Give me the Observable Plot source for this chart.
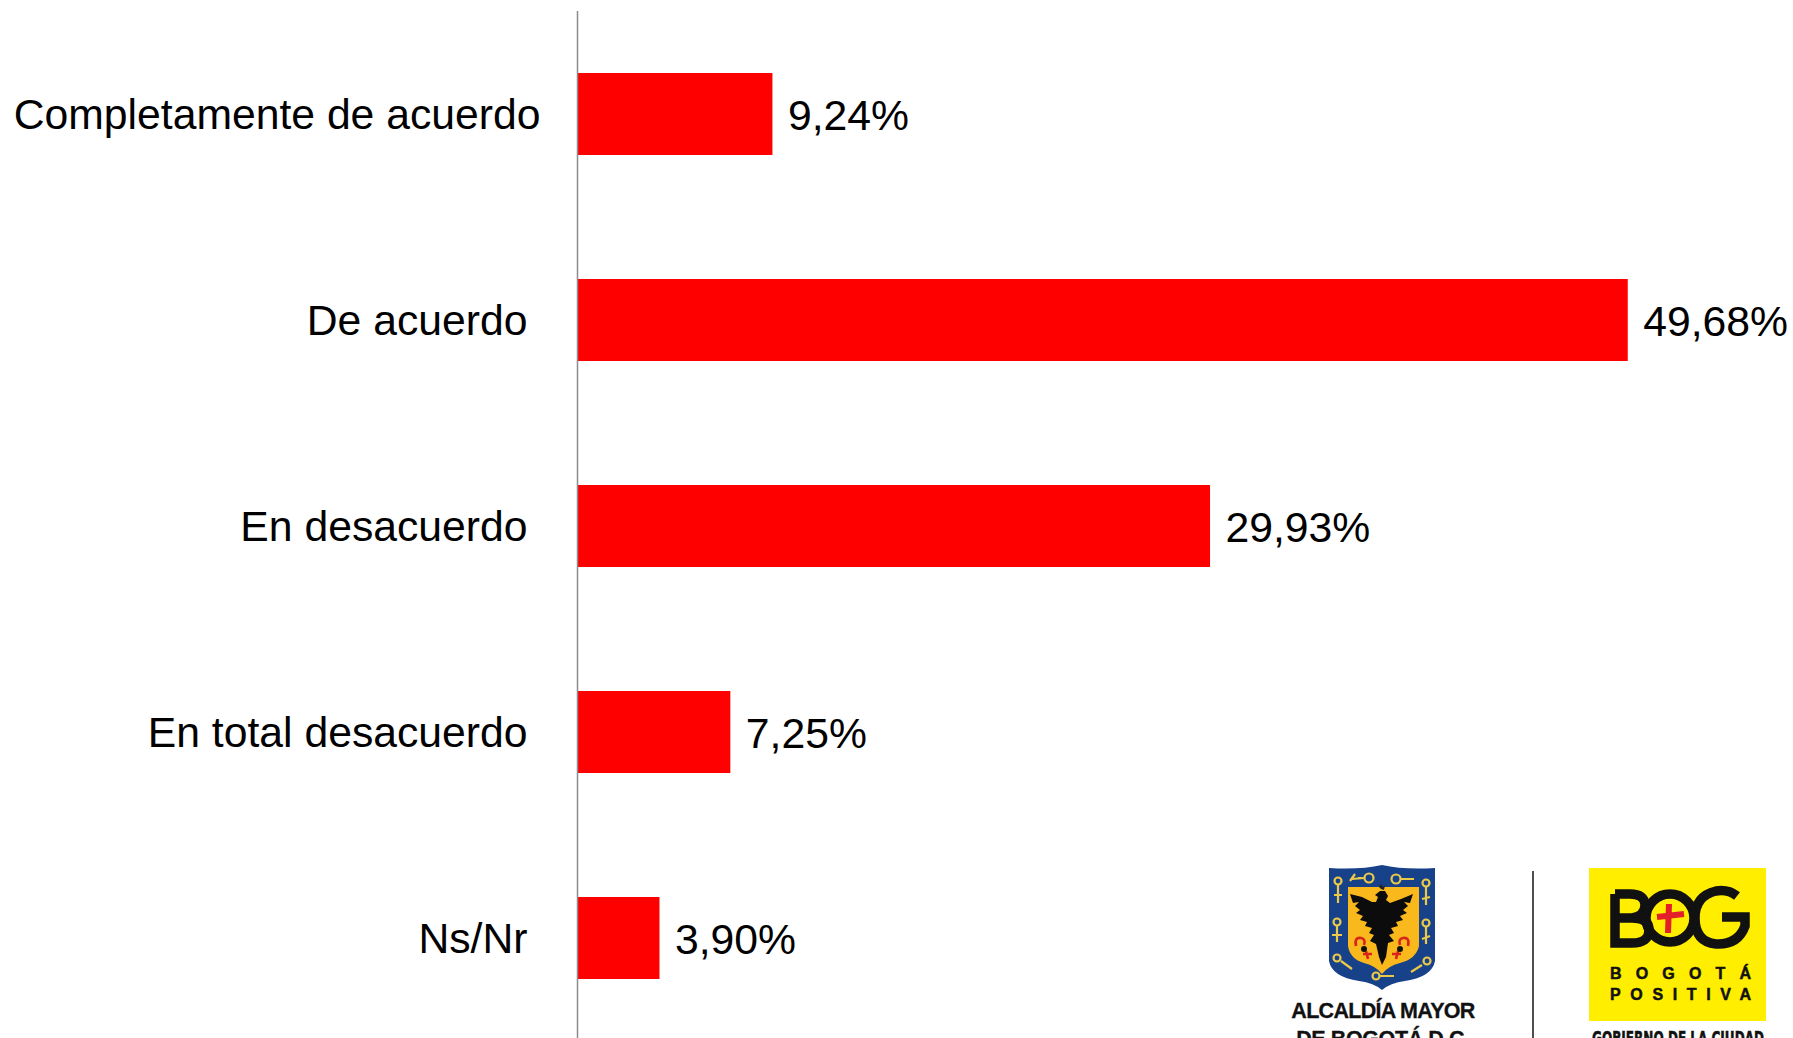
<!DOCTYPE html>
<html><head><meta charset="utf-8">
<script src="https://cdn.jsdelivr.net/npm/d3@7"></script>
<script src="https://cdn.jsdelivr.net/npm/@observablehq/plot@0.6"></script>
<style>
html,body{margin:0;padding:0;background:#fff;overflow:hidden;width:1793px;height:1038px}
#wrap{position:relative;width:1793px;height:1038px;overflow:hidden}
#logos{position:absolute;left:0;top:0}
svg{display:block}
</style></head><body>
<div id="wrap"><div id="chart"></div>
<svg id="logos" width="1793" height="1038" viewBox="0 0 1793 1038" font-family="Liberation Sans">
  <g transform="translate(0,1)">
  <path d="M1329 867 Q1360 869 1382 864 Q1404 869 1435 867 L1435 960 Q1432 976 1405 980 Q1390 982 1382 989 Q1374 982 1359 980 Q1332 976 1329 960Z" fill="#17428a"/>
  <path d="M1348 886 H1419 V945 Q1416 958 1400 962 Q1388 965 1382 973 Q1376 965 1364 962 Q1350 958 1348 945Z" fill="#f9b91c"/>
  <g fill="none" stroke="#e9c84a" stroke-width="2.2">
    <circle cx="1338" cy="880" r="3.5"/><circle cx="1369" cy="877" r="4.5"/><circle cx="1396" cy="878" r="4.5"/><circle cx="1426" cy="882" r="3.5"/>
    <circle cx="1337" cy="921" r="3.5"/><circle cx="1426" cy="922" r="3.5"/><circle cx="1337" cy="957" r="3.5"/><circle cx="1427" cy="960" r="3.5"/><circle cx="1376" cy="975" r="3.5"/>
    <path d="M1338 884V902M1334 894H1342M1426 886V904M1430 896L1422 898M1337 925V941M1332 934H1342M1426 926V943M1430 935L1422 938M1352 878L1364 877M1355 873L1350 880M1400 878H1414M1341 960L1352 968M1422 964L1411 971M1380 975H1394M1362 877H1358"/>
  </g>
  <path d="M1350 893 L1362 896 L1372 901 L1376 901 L1378 896 L1375 894 L1380 890 L1385 890 L1388 895 L1386 899 L1390 902 L1401 898 L1413 893 L1410 902 L1404 901 L1408 905 L1403 909 L1407 912 L1400 915 L1403 919 L1396 921 L1398 925 L1391 927 L1394 932 L1389 934 L1394 940 L1388 942 L1386 956 L1382 964 L1379 956 L1376 943 L1370 940 L1374 934 L1369 932 L1372 927 L1365 925 L1367 921 L1360 919 L1363 915 L1356 912 L1360 909 L1355 905 L1359 901 L1353 902Z" fill="#0c0c0c"/>
  <path d="M1381 888 l-4 -4 l2 2 l2 -3 l2 3 l2 -2 l-1 5z" fill="#222"/>
  <path d="M1356 945 Q1354 936 1361 937 Q1366 938 1364 944 M1408 945 Q1410 936 1403 937 Q1398 938 1400 944 M1366 950 L1368 958 M1363 953 H1372 M1398 950 L1396 958 M1401 953 H1392" stroke="#d8241c" stroke-width="2.6" fill="none"/>
  <circle cx="1364" cy="948" r="3" fill="#111"/><circle cx="1400" cy="948" r="3" fill="#111"/>
  </g>
  <text x="1383" y="1018" text-anchor="middle" font-size="21.5" font-weight="700" fill="#111" stroke="#111" stroke-width=".3" letter-spacing="-0.7">ALCALDÍA MAYOR</text>
  <text x="1383" y="1046" text-anchor="middle" font-size="21.5" font-weight="700" fill="#111" stroke="#111" stroke-width=".3" letter-spacing="-0.4">DE BOGOTÁ D.C.</text>
  <line x1="1533" x2="1533" y1="871" y2="1038" stroke="#222" stroke-width="1.6"/>
  <rect x="1589" y="868" width="177" height="153" fill="#ffee00"/>
  <g fill="none" stroke="#111" stroke-width="9.5">
    <path d="M1615 894 V943 H1632 Q1649 943 1649 930 Q1649 918 1632 918 H1615 M1632 918 Q1645 916 1645 905 Q1645 894 1630 894 H1615"/>
    <circle cx="1670" cy="918" r="24"/>
    <path d="M1737 896 Q1728 889 1716 891 Q1695 896 1695 918 Q1695 942 1716 944 Q1738 945 1745 926 V917 H1722"/>
  </g>
  <path d="M1669 904 L1668 933 M1657 917 L1684 914" stroke="#e3202a" stroke-width="6" fill="none"/>
  <text x="1610" y="979" font-size="16" font-weight="700" font-family="Liberation Sans Narrow, Liberation Sans" fill="#111" stroke="#111" stroke-width=".5" textLength="141" lengthAdjust="spacing">BOGOTÁ</text>
  <text x="1610" y="1000" font-size="16" font-weight="700" font-family="Liberation Sans Narrow, Liberation Sans" fill="#111" stroke="#111" stroke-width=".5" textLength="141" lengthAdjust="spacing">POSITIVA</text>
  <text x="1592" y="1045" font-size="19" font-weight="700" font-family="DejaVu Sans" fill="#111" textLength="172" lengthAdjust="spacingAndGlyphs" stroke="#111" stroke-width=".6">GOBIERNO DE LA CIUDAD</text>
</svg></div>
<script>
const categories = ["Completamente de acuerdo", "De acuerdo", "En desacuerdo", "En total desacuerdo", "Ns/Nr"];
const values = [9.24, 49.68, 29.93, 7.25, 3.90];
const valueLabels = ["9,24%", "49,68%", "29,93%", "7,25%", "3,90%"];
const rows = categories.map((c, i) => ({category: c, value: values[i], label: valueLabels[i]}));

const chart = Plot.plot({
  width: 1793, height: 1038,
  marginLeft: 577, marginRight: 0, marginTop: 11, marginBottom: 0,
  style: {background: "#fff", fontFamily: "Liberation Sans"},
  x: {domain: [0, 56.5], range: [577, 1772], axis: null},
  y: {domain: categories, range: [11, 1041], paddingInner: 0.6, paddingOuter: 0.3, align: 0.5, axis: null},
  marks: [
    Plot.barX(rows, {y: "category", x1: 0, x2: "value", fill: "#ff0000"}),
    Plot.ruleX([0], {stroke: "#8c8c8c", strokeWidth: 1.5}),
    Plot.text(rows.slice(0, 1), {y: "category", x: () => 0, text: "category", textAnchor: "end", dx: -37, dy: 1, fontSize: 42.7, fill: "#000"}),
    Plot.text(rows.slice(1), {y: "category", x: () => 0, text: "category", textAnchor: "end", dx: -50, dy: 1, fontSize: 42.7, fill: "#000"}),
    Plot.text(rows, {y: "category", x: "value", text: "label", textAnchor: "start", dx: 15, dy: 2, fontSize: 42.7, fill: "#000"})
  ]
});
document.getElementById("chart").appendChild(chart);
</script>
</body></html>
